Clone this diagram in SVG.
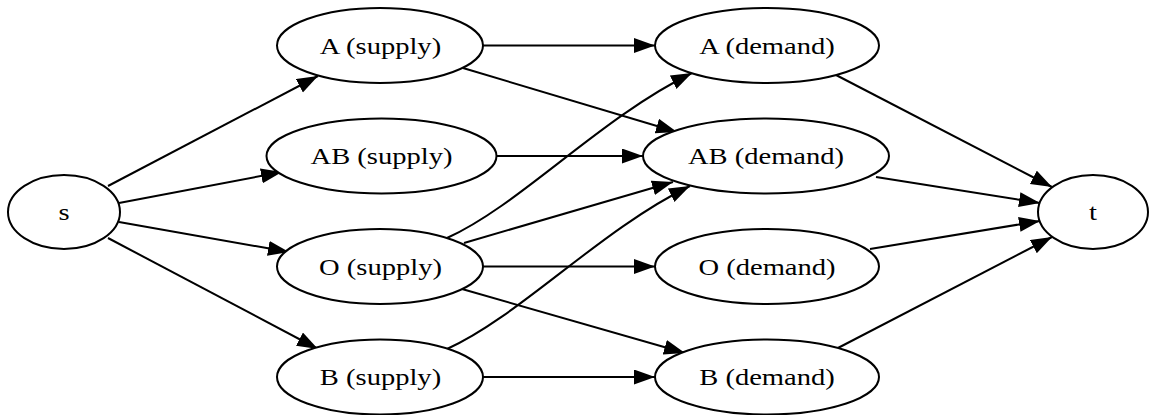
<svg xmlns="http://www.w3.org/2000/svg" width="1151" height="415" viewBox="0 0 1151 415">
<style>
.node ellipse{fill:#fff;stroke:#000;stroke-width:2}
.node text{font-family:"Liberation Serif","Times New Roman",serif;font-size:24px;text-anchor:middle;fill:#000}
.edge{fill:none;stroke:#000;stroke-width:2;marker-end:url(#ah)}
</style>
<defs>
<marker id="ah" markerUnits="userSpaceOnUse" markerWidth="22" markerHeight="16" refX="21" refY="7.5" orient="auto">
<path d="M0,0 L21,7.5 L0,15 z" fill="#000"/>
</marker>
</defs>
<rect width="1151" height="415" fill="#fff"/>
<g id="connectors">
<path class="edge" d="M108,186 L318,76"/>
<path class="edge" d="M119,203 L282,172"/>
<path class="edge" d="M119,222 L289,252"/>
<path class="edge" d="M108,238 L318,349"/>
<path class="edge" d="M483,45.5 L655,45.5"/>
<path class="edge" d="M463,68 L677,132"/>
<path class="edge" d="M496,156 L643,156"/>
<path class="edge" d="M447,238 C520,205 600,118 692,73"/>
<path class="edge" d="M464,243 L673,182"/>
<path class="edge" d="M483,266.5 L655,266.5"/>
<path class="edge" d="M462,289 L685,353"/>
<path class="edge" d="M447,349 C520,316 600,230 690,186"/>
<path class="edge" d="M483,377 L655,377"/>
<path class="edge" d="M836,75 L1052,187"/>
<path class="edge" d="M876,177 L1040,203"/>
<path class="edge" d="M870,249 L1040,221"/>
<path class="edge" d="M836,349 L1052,237"/>
</g>
<g id="s" class="node"><ellipse cx="64" cy="212" rx="56" ry="37"/><text transform="translate(64,220) scale(1.19,1)">s</text></g>
<g id="A_supply" class="node"><ellipse cx="380" cy="45.5" rx="103" ry="37.5"/><text transform="translate(380.5,53.5) scale(1.19,1)">A (supply)</text></g>
<g id="AB_supply" class="node"><ellipse cx="381.5" cy="156" rx="115" ry="37.5"/><text transform="translate(381.5,164) scale(1.19,1)">AB (supply)</text></g>
<g id="O_supply" class="node"><ellipse cx="380" cy="266.5" rx="103" ry="37.5"/><text transform="translate(380.5,274.5) scale(1.19,1)">O (supply)</text></g>
<g id="B_supply" class="node"><ellipse cx="380" cy="377" rx="103" ry="37.5"/><text transform="translate(380.5,385) scale(1.19,1)">B (supply)</text></g>
<g id="A_demand" class="node"><ellipse cx="767" cy="45.5" rx="112" ry="37.5"/><text transform="translate(767,53.5) scale(1.19,1)">A (demand)</text></g>
<g id="AB_demand" class="node"><ellipse cx="766" cy="156" rx="123" ry="37.5"/><text transform="translate(766,164) scale(1.19,1)">AB (demand)</text></g>
<g id="O_demand" class="node"><ellipse cx="767" cy="266.5" rx="112" ry="37.5"/><text transform="translate(767,274.5) scale(1.19,1)">O (demand)</text></g>
<g id="B_demand" class="node"><ellipse cx="767" cy="377" rx="112" ry="37.5"/><text transform="translate(767,385) scale(1.19,1)">B (demand)</text></g>
<g id="t" class="node"><ellipse cx="1093" cy="212" rx="55" ry="37"/><text transform="translate(1093,220) scale(1.19,1)">t</text></g>
</svg>
